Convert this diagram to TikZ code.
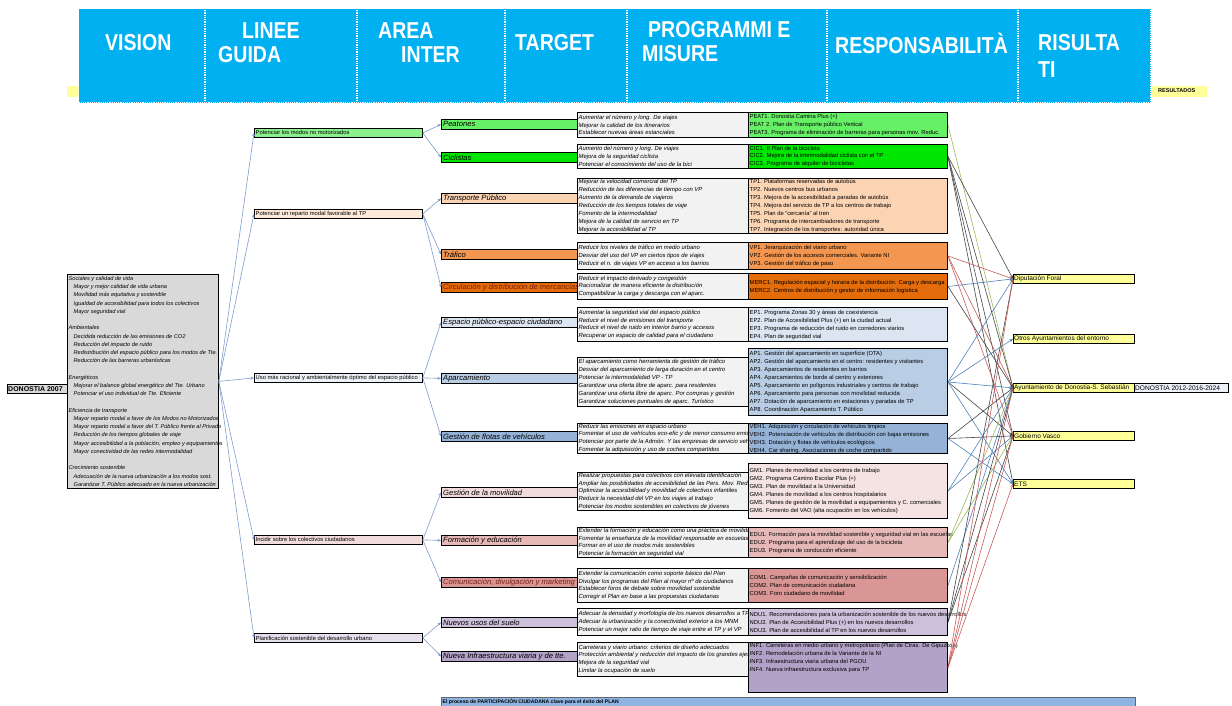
\documentclass[tikz,border=0pt]{standalone}
\usepackage{fontspec}
\setmainfont{Liberation Sans}
\newfontfamily\hdfont[FakeStretch=0.85]{Liberation Sans}
\usetikzlibrary{arrows.meta}
\definecolor{hdblue}{RGB}{0,176,240}
\definecolor{resyel}{RGB}{255,255,153}
\definecolor{visgray}{RGB}{217,217,217}
\definecolor{tgtgray}{RGB}{242,242,242}
\definecolor{linkblue}{RGB}{125,155,205}
\definecolor{barblue}{RGB}{141,180,226}
\definecolor{darkred}{RGB}{120,30,20}
% line colours per linea guida
\definecolor{gnmcol}{RGB}{140,240,140}
\definecolor{peatcol}{RGB}{102,240,102}
\definecolor{ciccol}{RGB}{0,230,0}
\definecolor{gtpcol}{RGB}{253,233,217}
\definecolor{tpcol}{RGB}{251,212,180}
\definecolor{vpcol}{RGB}{243,150,80}
\definecolor{merccol}{RGB}{228,108,10}
\definecolor{gespcol}{RGB}{238,242,248}
\definecolor{epcol}{RGB}{220,230,242}
\definecolor{apcol}{RGB}{185,205,229}
\definecolor{vehcol}{RGB}{149,179,215}
\definecolor{gcolcol}{RGB}{242,220,219}
\definecolor{gmcol}{RGB}{245,226,226}
\definecolor{educol}{RGB}{230,185,184}
\definecolor{comcol}{RGB}{217,150,148}
\definecolor{gurbcol}{RGB}{229,224,236}
\definecolor{nducol}{RGB}{204,192,218}
\definecolor{infcol}{RGB}{179,162,199}
% responsibility links
\definecolor{rgreen}{RGB}{155,187,89}
\definecolor{rgrey}{RGB}{70,70,70}
\definecolor{rred}{RGB}{200,90,90}
\definecolor{rblue}{RGB}{79,129,189}
\newcommand{\visind}{\hspace*{5pt}}

\begin{document}
\begin{tikzpicture}[x=1pt,y=-1pt,
  hd/.style={font=\hdfont\bfseries\fontsize{23}{24}\selectfont,text=white,
             inner sep=0pt,align=left},
  box/.style={draw,anchor=north west,inner sep=0pt,line width=0.8pt},
  guide/.style={box,minimum width=168pt,minimum height=9pt},
  area/.style={box,minimum width=136pt,minimum height=10pt},
  tgt/.style={box,fill=tgtgray,minimum width=171pt},
  prg/.style={box,minimum width=199pt,line width=1pt},
  resp/.style={box,fill=resyel,minimum width=121pt,minimum height=9pt},
  vistxt/.style={label={[anchor=west,align=left,inner sep=1.5pt,
             font=\fontsize{5.6}{8.24}\selectfont\itshape]west:{#1}}},
  guidetxt/.style={label={[anchor=west,inner sep=1.5pt,
             font=\fontsize{5.8}{7}\selectfont]west:{#1}}},
  areatxt/.style={label={[anchor=west,inner sep=2pt,
             font=\fontsize{7.6}{8}\selectfont\itshape]west:{#1}}},
  tgttxt/.style={label={[anchor=west,align=left,inner sep=1.5pt,
             font=\fontsize{5.9}{7.9}\selectfont\itshape]west:{#1}}},
  prgtxt/.style={label={[anchor=west,align=left,inner sep=1.5pt,
             font=\fontsize{5.8}{8}\selectfont]west:{#1}}},
  prgtop/.style={label={[anchor=north west,align=left,inner sep=1.5pt,
             font=\fontsize{5.8}{8}\selectfont]north west:{#1}}},
  resptxt/.style={label={[anchor=west,inner sep=1pt,
             font=\fontsize{6.5}{7}\selectfont]west:{#1}}},
  link/.style={-{Stealth[length=3.5pt,width=3pt]},draw=linkblue,line width=0.6pt},
  rlink/.style={-{Stealth[length=3.5pt,width=3pt]},line width=0.6pt,draw=#1}
]
\useasboundingbox (0,0) rectangle (1232,706);

% header band
\node[anchor=north west,fill=resyel,minimum width=1140pt,minimum height=11pt,
      inner sep=0pt] (resbar) at (67,86) {};
\node[anchor=west,inner sep=0pt,font=\bfseries\fontsize{5.5}{6}\selectfont]
      (restag) at (1158,91) {RESULTADOS};
\node[anchor=north west,fill=hdblue,minimum width=1072pt,minimum height=94pt,
      inner sep=0pt,draw=white,densely dotted,line width=1.2pt] (head) at (78,8) {};
\foreach \x in {205,357,505,627,827,1018}
  \draw[white,densely dotted,line width=1.3pt] (\x,10) -- (\x,100);

\node[hd,anchor=west] (hvision) at (105,43) {VISION};
\node[hd,anchor=west] (hguide)  at (218,43) {\hspace*{24pt}LINEE\\GUIDA};
\node[hd,anchor=west] (harea)   at (378,43) {AREA\\\hspace*{23pt}INTER};
\node[hd,anchor=west] (htarget) at (515,43) {TARGET};
\node[hd,anchor=west] (hprog)   at (642,42) {\hspace*{6pt}PROGRAMMI E\\MISURE};
\node[hd,anchor=west] (hresp)   at (835,43) {RESPONSABILITÀ};
\node[hd,anchor=west,font=\hdfont\bfseries\fontsize{23}{27}\selectfont]
      (hresult) at (1038,56) {RISULTA\\TI};

% vision
\node[box,fill=visgray,minimum width=60pt,minimum height=9pt,
      label={[anchor=west,inner sep=1pt,font=\bfseries\fontsize{7}{7}\selectfont]west:DONOSTIA 2007}]
      (don07) at (7,384) {};
\node[box,fill=visgray,minimum width=151pt,minimum height=214pt,vistxt={%
  Sociales y calidad de vida\\
  \visind Mayor y mejor calidad de vida urbana\\
  \visind Movilidad más equitativa y sostenible\\
  \visind Igualdad de accesibilidad para todos los colectivos\\
  \visind Mayor seguridad vial\\[8.24pt]
  Ambientales\\
  \visind Decidida reducción de las emisiones de CO2\\
  \visind Reducción del impacto de ruido\\
  \visind Redistribución del espacio público para los modos de Tte.\\
  \visind Reducción de las barreras urbanísticas\\[8.24pt]
  Energéticos\\
  \visind Mejorar el balance global energético del Tte. Urbano\\
  \visind Potenciar el uso individual de Tte. Eficiente\\[8.24pt]
  Eficiencia de transporte\\
  \visind Mayor reparto modal a favor de los Modos no Motorizados\\
  \visind Mayor reparto modal a favor del T. Público frente al Privado\\
  \visind Reducción de los tiempos globales de viaje\\
  \visind Mayor accesibilidad a la población, empleo y equipamientos\\
  \visind Mayor conectividad de las redes intermodalidad\\[8.24pt]
  Crecimiento sostenible\\
  \visind Adecuación de la nueva urbanización a los modos sost.\\
  \visind Garantizar T. Público adecuado en la nueva urbanización}]
  (vision) at (67,274) {};

% linee guida
\node[guide,fill=gnmcol,guidetxt={Potenciar los modos no motorizados}] (gnm) at (254,128) {};
\node[guide,fill=gtpcol,guidetxt={Potenciar un reparto modal favorable al TP}] (gtp) at (254,209) {};
\node[guide,fill=gespcol,guidetxt={Uso más racional y ambientalmente óptimo del espacio público}] (gesp) at (254,373) {};
\node[guide,fill=gcolcol,guidetxt={Incidir sobre los colectivos ciudadanos}] (gcol) at (254,535) {};
\node[guide,fill=gurbcol,guidetxt={Planificación sostenible del desarrollo urbano}] (gurb) at (254,633) {};

% aree di intervento
\node[area,fill=peatcol,areatxt={Peatones}] (apeat) at (441,119) {};
\node[area,fill=ciccol,areatxt={Ciclistas}] (acic) at (441,152) {};
\node[area,fill=tpcol,areatxt={Transporte Público}] (atp) at (441,193) {};
\node[area,fill=vpcol,areatxt={Tráfico}] (avp) at (441,249) {};
\node[area,fill=merccol,areatxt={\textcolor{darkred}{Circulación y distribución de mercancías}}] (amerc) at (441,282) {};
\node[area,fill=epcol,areatxt={Espacio público-espacio ciudadano}] (aep) at (441,317) {};
\node[area,fill=apcol,areatxt={Aparcamiento}] (aap) at (441,373) {};
\node[area,fill=vehcol,areatxt={Gestión de flotas de vehículos}] (aveh) at (441,431) {};
\node[area,fill=gcolcol,areatxt={Gestión de la movilidad}] (agm) at (441,487) {};
\node[area,fill=educol,areatxt={Formación y educación}] (aedu) at (441,535) {};
\node[area,fill=comcol,areatxt={\textcolor{darkred}{Comunicación, divulgación y marketing}}] (acom) at (441,577) {};
\node[area,fill=nducol,areatxt={Nuevos usos del suelo}] (andu) at (441,617) {};
\node[area,fill=infcol,areatxt={Nueva Infraestructura viaria y de tte.}] (ainf) at (441,651) {};

% target
\node[tgt,minimum height=25pt,tgttxt={Aumentar el número y long. De viajes\\
  Mejorar la calidad de los itinerarios\\Establecer nuevas áreas estanciales}] (tpeat) at (577,112) {};
\node[tgt,minimum height=24pt,tgttxt={Aumento del número y long. De viajes\\
  Mejora de la seguridad ciclista\\Potenciar el conocimiento del uso de la bici}] (tcic) at (577,144) {};
\node[tgt,minimum height=55pt,tgttxt={Mejorar la velocidad comercial del TP\\
  Reducción de las diferencias de tiempo con VP\\Aumento de la demanda de viajeros\\
  Reducción de los tiempos totales de viaje\\Fomento de la intermodalidad\\
  Mejora de la calidad de servicio en TP\\Mejorar la accesibilidad al TP}] (ttp) at (577,178) {};
\node[tgt,minimum height=27pt,tgttxt={Reducir los niveles de tráfico en medio urbano\\
  Desviar del uso del VP en ciertos tipos de viajes\\
  Reducir el n. de viajes VP en acceso a los barrios}] (tvp) at (577,242) {};
\node[tgt,minimum height=26pt,tgttxt={Reducir el impacto derivado y congestión\\
  Racionalizar de manera eficiente la distribución\\
  Compatibilizar la carga y descarga con el aparc.}] (tmerc) at (577,273) {};
\node[tgt,minimum height=34pt,tgttxt={Aumentar la seguridad vial del espacio público\\
  Reducir el nivel de emisiones del transporte\\
  Reducir el nivel de ruido en interior barrio y accesos\\
  Recuperar un espacio de calidad para el ciudadano}] (tep) at (577,307) {};
\node[tgt,minimum height=49pt,tgttxt={El aparcamiento como herramienta de gestión de tráfico\\
  Desviar del aparcamiento de larga duración en el centro\\
  Potenciar la intermodalidad VP - TP\\
  Garantizar una oferta libre de aparc. para residentes\\
  Garantizar una oferta libre de aparc. Por compras y gestión\\
  Garantizar soluciones puntuales de aparc. Turístico}] (tap) at (577,357) {};
\node[tgt,minimum height=30pt,tgttxt={Reducir las emisiones en espacio urbano\\
  Fomentar el uso de vehículos eco-efic y de menor consumo emisión\\
  Potenciar por parte de la Admón. Y las empresas de servicio veh.\\
  Fomentar la adquisición y uso de coches compartidos}] (tveh) at (577,423) {};
\node[tgt,minimum height=38pt,tgttxt={Realizar propuestas para colectivos con elevada identificación\\
  Ampliar las posibilidades de accesibilidad de las Pers. Mov. Red.\\
  Optimizar la accesibilidad y movilidad de colectivos infantiles\\
  Reducir la necesidad del VP en los viajes al trabajo\\
  Potenciar los modos sostenibles en colectivos de jóvenes}] (tgm) at (577,472) {};
\node[tgt,minimum height=30pt,tgttxt={Extender la formación y educación como una práctica de movilidad\\
  Fomentar la enseñanza de la movilidad responsable en escuelas\\
  Formar en el uso de modos más sostenibles\\
  Potenciar la formación en seguridad vial}] (tedu) at (577,527) {};
\node[tgt,minimum height=34pt,tgttxt={Extender la comunicación como soporte básico del Plan\\
  Divulgar los programas del Plan al mayor nº de ciudadanos\\
  Establecer foros de debate sobre movilidad sostenible\\
  Corregir el Plan en base a las propuestas ciudadanas}] (tcom) at (577,568) {};
\node[tgt,minimum height=27pt,tgttxt={Adecuar la densidad y morfología de los nuevos desarrollos a TP\\
  Adecuar la urbanización y la conectividad exterior a los MNM\\
  Potenciar un mejor ratio de tiempo de viaje entre el TP y el VP}] (tndu) at (577,608) {};
\node[tgt,minimum height=34pt,tgttxt={Carreteras y viario urbano: criterios de diseño adecuados\\
  Protección ambiental y reducción del impacto de los grandes ejes\\
  Mejora de la seguridad vial\\Limitar la ocupación de suelo}] (tinf) at (577,642) {};

% programmi e misure
\node[prg,fill=peatcol,minimum height=25pt,prgtxt={PEAT1. Donostia Camina Plus (+)\\
  PEAT 2. Plan de Transporte público Vertical\\
  PEAT3. Programa de eliminación de barreras para personas mov. Reduc.}] (ppeat) at (748,112) {};
\node[prg,fill=ciccol,minimum height=24pt,prgtxt={CIC1. II Plan de la bicicleta\\
  CIC2. Mejora de la intermodalidad ciclista con el TP\\
  CIC3. Programa de alquiler de bicicletas}] (pcic) at (748,144) {};
\node[prg,fill=tpcol,minimum height=55pt,prgtxt={TP1. Plataformas reservadas de autobús\\
  TP2. Nuevos centros bus urbanos\\TP3. Mejora de la accesibilidad a paradas de autobús\\
  TP4. Mejora del servicio de TP a los centros de trabajo\\TP5. Plan de ``cercanía'' al tren\\
  TP6. Programa de intercambiadores de transporte\\
  TP7. Integración de los transportes: autoridad única}] (ptp) at (748,178) {};
\node[prg,fill=vpcol,minimum height=27pt,prgtxt={VP1. Jerarquización del viario urbano\\
  VP2. Gestión de los accesos comerciales. Variante NI\\
  VP3. Gestión del tráfico de paso}] (pvp) at (748,242) {};
\node[prg,fill=merccol,minimum height=26pt,prgtxt={MERC1. Regulación espacial y horaria de la distribución. Carga y descarga\\
  MERC2. Centros de distribución y gestor de información logística}] (pmerc) at (748,273) {};
\node[prg,fill=epcol,minimum height=34pt,prgtxt={EP1. Programa Zonas 30 y áreas de coexistencia\\
  EP2. Plan de Accesibilidad Plus (+) en la ciudad actual\\
  EP3. Programa de reducción del ruido en corredores viarios\\EP4. Plan de seguridad vial}] (pep) at (748,307) {};
\node[prg,fill=apcol,minimum height=67pt,prgtxt={AP1. Gestión del aparcamiento en superficie (OTA)\\
  AP2. Gestión del aparcamiento en el centro: residentes y visitantes\\
  AP3. Aparcamientos de residentes en barrios\\
  AP4. Aparcamientos de borde al centro y exteriores\\
  AP5. Aparcamiento en polígonos industriales y centros de trabajo\\
  AP6. Aparcamiento para personas con movilidad reducida\\
  AP7. Dotación de aparcamiento en estaciones y paradas de TP\\
  AP8. Coordinación Aparcamiento T. Público}] (pap) at (748,348) {};
\node[prg,fill=vehcol,minimum height=30pt,prgtxt={VEH1. Adquisición y circulación de vehículos limpios\\
  VEH2. Potenciación de vehículos de distribución con bajas emisiones\\
  VEH3. Dotación y flotas de vehículos ecológicos\\
  VEH4. Car sharing. Asociaciones de coche compartido}] (pveh) at (748,423) {};
\node[prg,fill=gmcol,minimum height=55pt,prgtxt={GM1. Planes de movilidad a los centros de trabajo\\
  GM2. Programa Camino Escolar Plus (+)\\GM3. Plan de movilidad a la Universidad\\
  GM4. Planes de movilidad a los centros hospitalarios\\
  GM5. Planes de gestión de la movilidad a equipamientos y C. comerciales\\
  GM6. Fomento del VAO (alta ocupación en los vehículos)}] (pgm) at (748,463) {};
\node[prg,fill=educol,minimum height=30pt,prgtxt={EDU1. Formación para la movilidad sostenible y seguridad vial en las escuelas\\
  EDU2. Programa para el aprendizaje del uso de la bicicleta\\
  EDU3. Programa de conducción eficiente}] (pedu) at (748,527) {};
\node[prg,fill=comcol,minimum height=34pt,prgtxt={COM1. Campañas de comunicación y sensibilización\\
  COM2. Plan de comunicación ciudadana\\COM3. Foro ciudadano de movilidad}] (pcom) at (748,568) {};
\node[prg,fill=nducol,minimum height=27pt,prgtxt={NDU1. Recomendaciones para la urbanización sostenible de los nuevos desarrollos\\
  NDU2. Plan de Accesibilidad Plus (+) en los nuevos desarrollos\\
  NDU3. Plan de accesibilidad al TP en los nuevos desarrollos}] (pndu) at (748,608) {};
\node[prg,fill=infcol,minimum height=50pt,prgtop={INF1. Carreteras en medio urbano y metropolitano (Plan de Ctras. De Gipuzkoa)\\
  INF2. Remodelación urbana de la Variante de la NI\\
  INF3. Infraestructura viaria urbana del PGOU\\
  INF4. Nueva infraestructura exclusiva para TP}] (pinf) at (748,642) {};

% responsabilita
\node[resp,resptxt={Diputación Foral}] (rdip) at (1013,274) {};
\node[resp,resptxt={Otros Ayuntamientos del entorno}] (rotros) at (1013,334) {};
\node[resp,resptxt={Ayuntamiento de Donostia-S. Sebastián}] (rayto) at (1013,383) {};
\node[resp,resptxt={Gobierno Vasco}] (rgv) at (1013,431) {};
\node[resp,resptxt={ETS}] (rets) at (1013,479) {};
\node[box,fill=gespcol,minimum width=94pt,minimum height=9pt,
      label={[anchor=west,inner sep=1pt,font=\fontsize{6.6}{7}\selectfont]west:DONOSTIA 2012-2016-2024}]
      (don24) at (1134,383) {};

% partecipazione
\node[box,fill=barblue,draw=black!60,minimum width=694pt,minimum height=9pt,
      label={[anchor=west,inner sep=1.5pt,font=\bfseries\fontsize{5.1}{6}\selectfont]west:El proceso de PARTICIPACIÓN CIUDADANA clave para el éxito del PLAN}]
      (pcbar) at (441,697) {};

% frecce
\foreach \g in {gnm,gtp,gesp,gcol,gurb}
  \draw[link] (vision.east) -- (\g.west);
\foreach \g/\a in {gnm/apeat,gnm/acic,gtp/atp,gtp/avp,gtp/amerc,
                   gesp/aep,gesp/aap,gesp/aveh,gcol/agm,gcol/aedu,gcol/acom,
                   gurb/andu,gurb/ainf}
  \draw[link] (\g.east) -- (\a.west);

\foreach \p/\r/\c in {ppeat/rayto/rgreen,pcic/rdip/rgrey,pcic/rayto/rgrey,
                      pcic/rgv/rgrey,pcic/rets/rgrey,pvp/rdip/rred,pvp/rayto/rred,
                      pvp/rgv/rred,pmerc/rdip/rblue,pmerc/rayto/rgrey,
                      pap/rdip/rblue,pap/rotros/rblue,pap/rayto/rblue,pap/rgv/rgrey,
                      pap/rets/rblue,pveh/rayto/rgrey,pveh/rgv/rgrey,pveh/rets/rblue,
                      pgm/rayto/rblue,pgm/rgv/rblue,pedu/rayto/rgreen,pedu/rgv/rgreen,
                      pcom/rayto/rblue,pndu/rdip/rgrey,pndu/rayto/rgrey,pndu/rgv/rgrey,
                      pinf/rdip/rred,pinf/rayto/rred,pinf/rgv/rred,pinf/rets/rred}
  \draw[rlink=\c] (\p.east) -- (\r.west);
\end{tikzpicture}
\end{document}
